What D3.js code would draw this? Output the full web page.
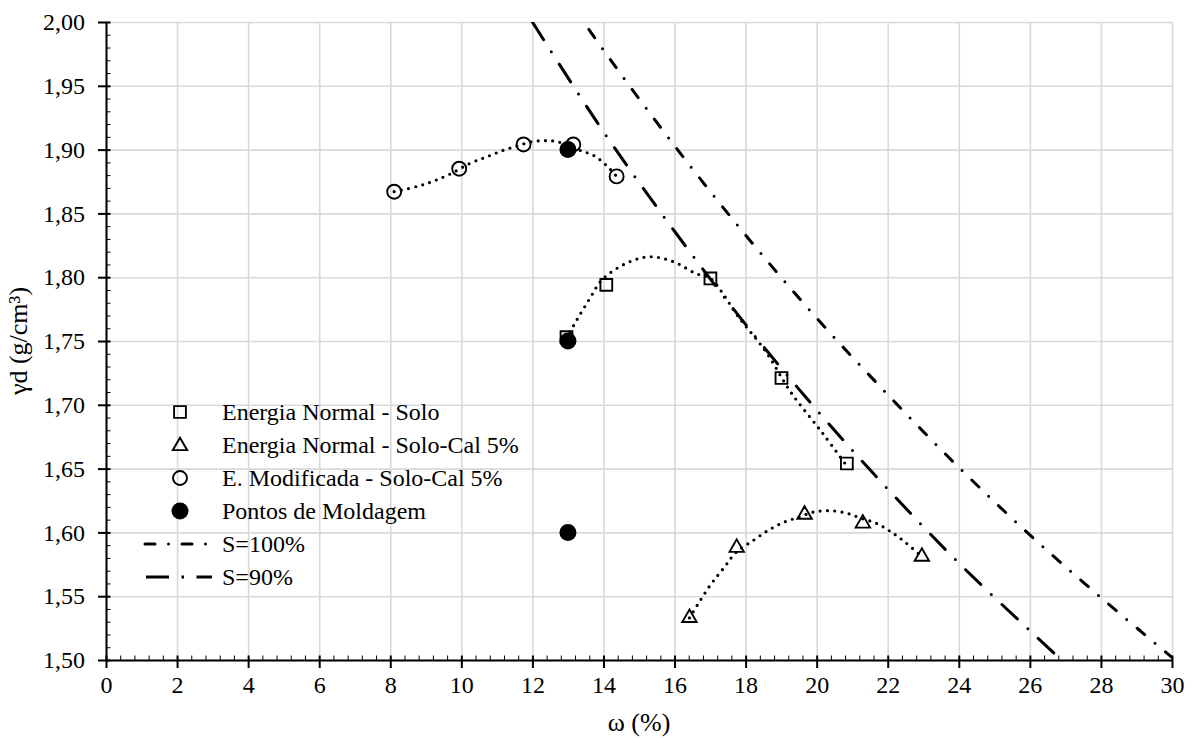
<!DOCTYPE html>
<html>
<head>
<meta charset="utf-8">
<script src="https://cdn.jsdelivr.net/npm/d3@7"></script>
<style>
  body { margin: 0; background: #fff; }
</style>
</head>
<body>
<svg id="canvas" width="1192" height="738"></svg>
<script>
// ticks
let xTicks = d3.range(0, 31, 2)
let yTicks = [1.50, 1.55, 1.60, 1.65, 1.70, 1.75, 1.80, 1.85, 1.90, 1.95, 2.00]

// points
let soloW = [12.96, 14.08, 17.01, 19.01, 20.85]
let soloG = [1.753, 1.794, 1.799, 1.721, 1.654]
let calW = [16.42, 17.75, 19.66, 21.30, 22.96]
let calG = [1.533, 1.588, 1.614, 1.607, 1.581]
let modW = [8.11, 9.94, 11.75, 13.15, 14.37]
let modG = [1.867, 1.885, 1.904, 1.904, 1.879]
let moldW = [13, 13, 13]
let moldG = [1.90, 1.75, 1.60]

// trend lines (dotted)
let soloTrendW = [12.96, 13.26, 13.63, 13.96, 14.65, 15.30, 15.98, 16.59, 17.01, 17.34, 17.77, 18.56, 19.27, 20.16, 20.85]
let soloTrendG = [1.752, 1.767, 1.784, 1.798, 1.811, 1.816, 1.812, 1.803, 1.799, 1.788, 1.770, 1.742, 1.710, 1.678, 1.652]
let calTrendW = [16.42, 16.99, 17.41, 17.72, 18.23, 18.66, 19.08, 19.50, 19.92, 20.39, 20.85, 21.26, 21.69, 22.06, 22.46, 22.96]
let calTrendG = [1.533, 1.558, 1.573, 1.584, 1.594, 1.602, 1.608, 1.612, 1.616, 1.617, 1.615, 1.611, 1.607, 1.601, 1.593, 1.581]
let modTrendW = [8.11, 8.80, 9.24, 9.69, 10.25, 10.72, 11.15, 11.57, 11.99, 12.35, 12.70, 13.31, 13.75, 14.12, 14.37]
let modTrendG = [1.867, 1.8715, 1.8756, 1.8809, 1.8893, 1.8944, 1.8991, 1.9028, 1.9062, 1.907, 1.9062, 1.8997, 1.895, 1.8866, 1.879]

// saturation curves
let s100W = [13, 14, 16, 18, 20, 22, 24, 26, 28, 30]
let s100G = [2.018, 1.978, 1.903, 1.833, 1.768, 1.708, 1.651, 1.598, 1.549, 1.502]
let s90W = [12, 14, 16, 18, 20, 22, 24, 26, 27]
let s90G = [2.000, 1.914, 1.836, 1.763, 1.696, 1.634, 1.576, 1.523, 1.497]

let plotLeft = 106, plotRight = 1172, plotTop = 22, plotBottom = 660
let fontSize = 24
let titleSize = 26

// pick a serif face that is really installed
let pickFont = () => {
    let ctx = document.createElement('canvas').getContext('2d')
    let sample = 'Energia Normal 1,95 mmWW'
    ctx.font = '40px monospace'
    let base = ctx.measureText(sample).width
    let names = ['Liberation Serif', 'Times New Roman', 'Tinos', 'DejaVu Serif', 'Noto Serif', 'FreeSerif', 'Nimbus Roman', 'Times']
    for (let n of names) {
        ctx.font = `40px "${n}", monospace`
        if (ctx.measureText(sample).width != base) return `"${n}", serif`
    }
    return 'serif'
}
let serif = pickFont()

let svg = d3.select('#canvas').attr('font-family', serif)
let x = d3.scaleLinear().domain([0, 30]).range([plotLeft, plotRight])
let y = d3.scaleLinear().domain([1.5, 2.0]).range([plotBottom, plotTop])

let zip = (a, b) => a.map((v, i) => [v, b[i]])

svg.append('clipPath').attr('id', 'plot')
    .append('rect').attr('x', plotLeft).attr('y', plotTop)
    .attr('width', plotRight - plotLeft).attr('height', plotBottom - plotTop)

// grid
svg.append('g')
    .attr('transform', `translate(0,${plotBottom})`)
    .call(d3.axisBottom(x).tickValues(xTicks).tickSize(-(plotBottom - plotTop)).tickFormat(''))
    .call(g => g.select('.domain').remove())
    .call(g => g.selectAll('line').attr('stroke', '#d9d9d9').attr('stroke-width', 1.6))
svg.append('g')
    .attr('transform', `translate(${plotLeft},0)`)
    .call(d3.axisLeft(y).tickValues(yTicks).tickSize(-(plotRight - plotLeft)).tickFormat(''))
    .call(g => g.select('.domain').remove())
    .call(g => g.selectAll('line').attr('stroke', '#d9d9d9').attr('stroke-width', 1.6))

let curve = d3.line().x(d => x(d[0])).y(d => y(d[1])).curve(d3.curveCatmullRom.alpha(0.5))

let plot = svg.append('g').attr('clip-path', 'url(#plot)')

let dash100 = '10 13.5 0 13.5'
let dash90 = '21 14.5 0 14.5'

plot.append('path').attr('d', curve(zip(s100W, s100G)))
    .attr('fill', 'none').attr('stroke', '#000').attr('stroke-width', 3)
    .attr('stroke-linecap', 'round').attr('stroke-dasharray', dash100)
plot.append('path').attr('d', curve(zip(s90W, s90G)))
    .attr('fill', 'none').attr('stroke', '#000').attr('stroke-width', 3)
    .attr('stroke-linecap', 'round').attr('stroke-dasharray', dash90)

let trends = [[soloTrendW, soloTrendG], [calTrendW, calTrendG], [modTrendW, modTrendG]]
trends.forEach(t => {
    plot.append('path').attr('d', curve(zip(t[0], t[1])))
        .attr('fill', 'none').attr('stroke', '#000').attr('stroke-width', 3.2)
        .attr('stroke-linecap', 'round').attr('stroke-dasharray', '0 7.3')
})

// markers
let square = d3.symbol().type(d3.symbolSquare).size(140)
let triangle = d3.symbol().type(d3.symbolTriangle).size(90)

let drawSquare = (g, px, py) => g.append('path').attr('d', square())
    .attr('transform', `translate(${px},${py})`)
    .attr('fill', 'none').attr('stroke', '#000').attr('stroke-width', 1.9)
let drawTriangle = (g, px, py) => g.append('path').attr('d', triangle())
    .attr('transform', `translate(${px},${py})`)
    .attr('fill', 'none').attr('stroke', '#000').attr('stroke-width', 1.9)
let drawCircle = (g, px, py) => g.append('circle').attr('cx', px).attr('cy', py).attr('r', 7)
    .attr('fill', 'none').attr('stroke', '#000').attr('stroke-width', 1.9)
let drawDot = (g, px, py) => g.append('circle').attr('cx', px).attr('cy', py).attr('r', 8.5)
    .attr('fill', '#000')

let marks = svg.append('g')
zip(soloW, soloG).forEach(d => drawSquare(marks, x(d[0]), y(d[1])))
zip(calW, calG).forEach(d => drawTriangle(marks, x(d[0]), y(d[1])))
zip(moldW, moldG).forEach(d => drawDot(marks, x(d[0]), y(d[1])))
zip(modW, modG).forEach(d => drawCircle(marks, x(d[0]), y(d[1])))

// axes
let fmt = d => d3.format('.2f')(d).replace('.', ',')
let yAxis = svg.append('g').attr('transform', `translate(${plotLeft},0)`)
    .call(d3.axisLeft(y).tickValues(yTicks).tickFormat(fmt).tickSizeOuter(0).tickSizeInner(8).tickPadding(13))
yAxis.selectAll('.tick line').attr('x2', -8).attr('x1', 4.5)
let xAxis = svg.append('g').attr('transform', `translate(0,${plotBottom})`)
    .call(d3.axisBottom(x).tickValues(xTicks).tickSizeOuter(0).tickSizeInner(8).tickPadding(8))
xAxis.selectAll('.tick line').attr('y2', 8).attr('y1', -4.5)

// minor ticks
let yMinor = d3.range(150, 201).map(v => v / 100).filter((v, i) => i % 5 != 0)
let xMinor = d3.range(0, 76).map(v => v * 0.4).filter((v, i) => i % 5 != 0)
svg.append('g').attr('transform', `translate(${plotLeft},0)`)
    .call(d3.axisRight(y).tickValues(yMinor).tickSize(4.5).tickFormat(''))
    .call(g => g.select('.domain').remove())
svg.append('g').attr('transform', `translate(0,${plotBottom})`)
    .call(d3.axisTop(x).tickValues(xMinor).tickSize(4.5).tickFormat(''))
    .call(g => g.select('.domain').remove())

svg.selectAll('.domain').attr('stroke', '#000').attr('stroke-width', 2)
yAxis.selectAll('.tick line').attr('stroke', '#000').attr('stroke-width', 2)
xAxis.selectAll('.tick line').attr('stroke', '#000').attr('stroke-width', 2)
svg.selectAll('g').attr('font-family', serif)
svg.selectAll('.tick text').attr('font-size', fontSize)

// axis titles
svg.append('text').attr('x', (plotLeft + plotRight) / 2).attr('y', 731)
    .attr('text-anchor', 'middle').attr('font-size', titleSize).text('ω (%)')
svg.append('text').attr('transform', `translate(27,${(plotTop + plotBottom) / 2}) rotate(-90)`)
    .attr('text-anchor', 'middle').attr('font-size', titleSize).text('γd (g/cm³)')

// legend
let legendNames = ['Energia Normal - Solo', 'Energia Normal - Solo-Cal 5%', 'E. Modificada - Solo-Cal 5%',
    'Pontos de Moldagem', 'S=100%', 'S=90%']
let legend = svg.append('g')
legendNames.forEach((name, i) => {
    let ly = 412 + i * 33
    if (i == 0) drawSquare(legend, 180, ly)
    if (i == 1) drawTriangle(legend, 180, ly + 1)
    if (i == 2) drawCircle(legend, 180, ly)
    if (i == 3) drawDot(legend, 180, ly)
    if (i == 4) legend.append('line').attr('x1', 145).attr('x2', 208).attr('y1', ly).attr('y2', ly)
        .attr('stroke', '#000').attr('stroke-width', 3).attr('stroke-linecap', 'round').attr('stroke-dasharray', dash100)
    if (i == 5) legend.append('line').attr('x1', 146).attr('x2', 212).attr('y1', ly).attr('y2', ly)
        .attr('stroke', '#000').attr('stroke-width', 3).attr('stroke-linecap', 'butt').attr('stroke-dasharray', '23 12.5 2.5 12.5')
    legend.append('text').attr('x', 222).attr('y', ly).attr('dy', '0.33em')
        .attr('font-size', fontSize).text(name)
})
</script>
</body>
</html>
